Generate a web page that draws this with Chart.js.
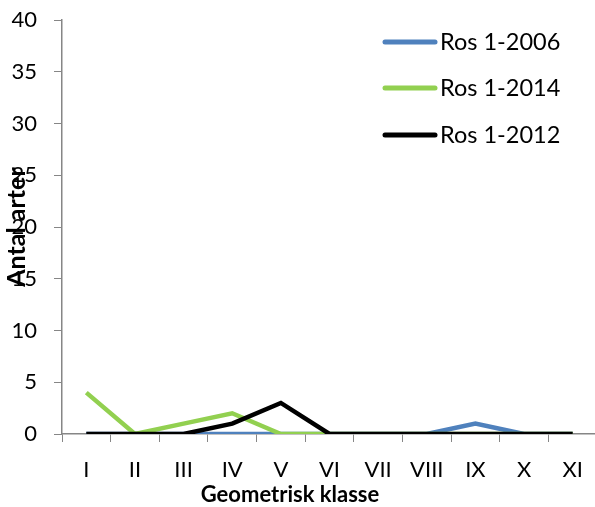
<!DOCTYPE html>
<html>
<head>
<meta charset="utf-8">
<script src="https://cdn.jsdelivr.net/npm/chart.js@4/dist/chart.umd.min.js"></script>
<style>
  html, body { margin: 0; padding: 0; background: #fff; overflow: hidden; }
</style>
</head>
<body>
<canvas id="chart" width="598" height="507"></canvas>
<script>
// Data
const classes = ['I', 'II', 'III', 'IV', 'V', 'VI', 'VII', 'VIII', 'IX', 'X', 'XI'];
const ros2006 = [0, 0, 0, 0, 0, 0, 0, 0, 1, 0, 0];
const ros2014 = [4, 0, 1, 2, 0, 0, 0, 0, 0, 0, 0];
const ros2012 = [0, 0, 0, 1, 3, 0, 0, 0, 0, 0, 0];
const yTicks = [0, 40, 5]; // min, max, step

const FONT = 'Lato';
const axisGrey = '#868686';

// legend drawn inside the plot, like the original
const legendBox = {
    id: 'legendBox',
    afterDatasetsDraw(chart) {
        const ctx = chart.ctx;
        const rows = [42, 88, 135];
        ctx.save();
        chart.data.datasets.forEach((ds, i) => {
            const y = rows[i];
            ctx.strokeStyle = ds.borderColor;
            ctx.lineWidth = 5;
            ctx.lineCap = 'round';
            ctx.beginPath();
            ctx.moveTo(385, y);
            ctx.lineTo(435, y);
            ctx.stroke();
            ctx.fillStyle = '#000';
            ctx.font = '23.5px ' + FONT;
            ctx.textBaseline = 'middle';
            ctx.textAlign = 'left';
            ctx.fillText(ds.label, 440, y);
        });
        // x axis title sits left of the plot centre in the original
        ctx.font = 'bold 22px ' + FONT;
        ctx.textAlign = 'center';
        ctx.fillText('Geometrisk klasse', 290, 495);
        ctx.restore();
    }
};

const ctx = document.getElementById('chart').getContext('2d');
new Chart(ctx, {
    type: 'line',
    data: {
        labels: classes,
        datasets: [
            {
                label: 'Ros 1-2006',
                data: ros2006,
                borderColor: '#4F81BD',
                borderWidth: 4.5,
                pointRadius: 0,
                tension: 0,
                order: 2
            },
            {
                label: 'Ros 1-2014',
                data: ros2014,
                borderColor: '#92D050',
                borderWidth: 4.5,
                pointRadius: 0,
                tension: 0,
                order: 1
            },
            {
                label: 'Ros 1-2012',
                data: ros2012,
                borderColor: '#000000',
                borderWidth: 4.5,
                pointRadius: 0,
                tension: 0,
                order: 0
            }
        ]
    },
    options: {
        responsive: false,
        animation: false,
        layout: { padding: { top: 20, right: 1, left: 0, bottom: 0 } },
        plugins: {
            legend: { display: false },
            tooltip: { enabled: false }
        },
        scales: {
            x: {
                offset: true,
                grid: {
                    offset: true,
                    drawOnChartArea: false,
                    drawTicks: true,
                    tickLength: 8,
                    color: axisGrey
                },
                border: { color: axisGrey, width: 1.5 },
                ticks: {
                    color: '#000',
                    font: { family: FONT, size: 22 },
                    padding: 15,
                    maxRotation: 0,
                    autoSkip: false
                },
                afterFit(scale) { scale.height = 73; }
            },
            y: {
                min: yTicks[0],
                max: yTicks[1],
                grid: {
                    drawOnChartArea: false,
                    drawTicks: true,
                    tickLength: 8,
                    color: axisGrey
                },
                border: { color: axisGrey, width: 1.5 },
                ticks: {
                    stepSize: yTicks[2],
                    color: '#000',
                    font: { family: FONT, size: 22 },
                    padding: 17
                },
                title: {
                    display: true,
                    text: 'Antal arter',
                    color: '#000',
                    font: { family: FONT, size: 25, weight: 'bold' },
                    padding: { top: 2, bottom: 0 }
                },
                afterFit(scale) {
                    scale.width = 62;
                    scale.paddingTop = 0;
                    scale.paddingBottom = 0;
                }
            }
        }
    },
    plugins: [legendBox]
});
</script>
</body>
</html>
